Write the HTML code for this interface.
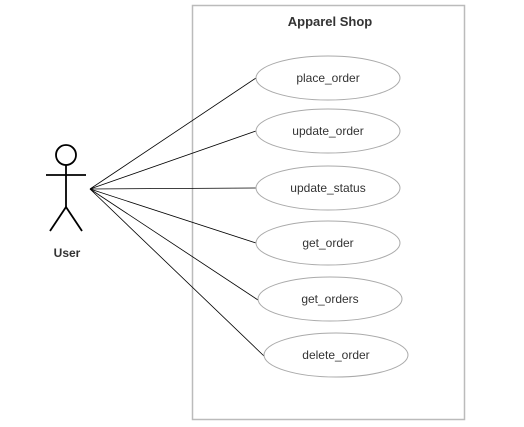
<!DOCTYPE html>
<html><head><style>
html,body{margin:0;padding:0;background:#fff;width:524px;height:427px;overflow:hidden}
text{font-family:"Liberation Sans",Arial,sans-serif;fill:#333}
</style></head><body>
<svg width="524" height="427" viewBox="0 0 524 427" xmlns="http://www.w3.org/2000/svg">
<rect x="192.5" y="5.5" width="272" height="414" fill="#fff" stroke="#bbb" stroke-width="1.5"/>
<text x="330" y="26" font-size="13" font-weight="bold" text-anchor="middle" fill="#444">Apparel Shop</text>
<g stroke="#000" stroke-width="0.8">
<line x1="90" y1="189" x2="256" y2="78"/>
<line x1="90" y1="189" x2="256" y2="131"/>
<line x1="90" y1="189" x2="256" y2="188"/>
<line x1="90" y1="189" x2="256" y2="243"/>
<line x1="90" y1="189" x2="258" y2="300"/>
<line x1="90" y1="189" x2="264" y2="356"/>
</g>
<g fill="#fff" stroke="#aaa" stroke-width="1">
<ellipse cx="328" cy="78" rx="72" ry="22"/>
<ellipse cx="328" cy="131" rx="72" ry="22"/>
<ellipse cx="328" cy="188" rx="72" ry="22"/>
<ellipse cx="328" cy="243" rx="72" ry="22"/>
<ellipse cx="330" cy="299" rx="72" ry="22"/>
<ellipse cx="336" cy="355" rx="72" ry="22"/>
</g>
<g font-size="12" text-anchor="middle">
<text x="328" y="82">place_order</text>
<text x="328" y="135">update_order</text>
<text x="328" y="192">update_status</text>
<text x="328" y="247">get_order</text>
<text x="330" y="303">get_orders</text>
<text x="336" y="359">delete_order</text>
</g>
<g stroke="#000" stroke-width="1.8" fill="none">
<circle cx="66" cy="155" r="10"/>
<line x1="46" y1="175" x2="86" y2="175"/>
<line x1="66" y1="165" x2="66" y2="207"/>
<line x1="66" y1="207" x2="50" y2="231"/>
<line x1="66" y1="207" x2="82" y2="231"/>
</g>
<text x="67" y="257" font-size="12" font-weight="bold" text-anchor="middle" fill="#444">User</text>
</svg>
</body></html>
